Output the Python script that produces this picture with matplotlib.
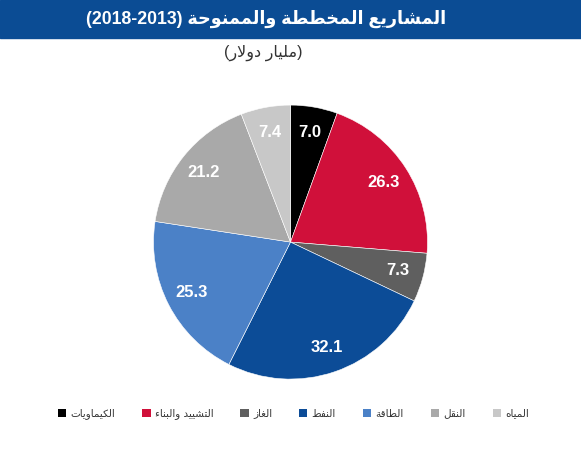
import re

import matplotlib
matplotlib.use("Agg")
import matplotlib.pyplot as plt
from matplotlib.patches import Patch, Rectangle

# ---------------------------------------------------------------------------
# Data
# ---------------------------------------------------------------------------
title = "المشاريع المخططة والممنوحة (2013-2018)"
subtitle = "(مليار دولار)"

sectors = ["الكيماويات", "التشييد والبناء", "الغاز", "النفط",
           "الطاقة", "النقل", "المياه"]
values = [7.0, 26.3, 7.3, 32.1, 25.3, 21.2, 7.4]
colors = ["#000000", "#D0103A", "#5F5F5F", "#0C4C97",
          "#4B81C7", "#A9A9A9", "#C8C8C8"]

# ---------------------------------------------------------------------------
# Minimal Arabic shaping + right-to-left ordering (no reshaper available)
# ---------------------------------------------------------------------------
_letters = "ءآأؤإئابةتثجحخدذرزسشصضطظعغفقكلمنهوىي"
_kinds = "URRRRDRDRDDDDDRRRRDDDDDDDDDDDDDDDRRD"
AR = {}
_cp = 0xFE80
for _ch, _k in zip(_letters, _kinds):
    AR[_ch] = (_cp, _k)
    _cp += {"U": 1, "R": 2, "D": 4}[_k]
LAM_ALEF = {"آ": 0xFEF5, "أ": 0xFEF7, "إ": 0xFEF9, "ا": 0xFEFB}


def shape(text):
    out = []
    i, n = 0, len(text)
    while i < n:
        ch = text[i]
        if ch not in AR:
            out.append(ch)
            i += 1
            continue
        prev = text[i - 1] if i > 0 else ""
        joins_prev = prev in AR and AR[prev][1] == "D"
        if ch == "ل" and i + 1 < n and text[i + 1] in LAM_ALEF:
            out.append(chr(LAM_ALEF[text[i + 1]] + int(joins_prev)))
            i += 2
            continue
        base, kind = AR[ch]
        nxt = text[i + 1] if i + 1 < n else ""
        joins_next = kind == "D" and nxt in AR and AR[nxt][1] != "U"
        if kind == "U":
            joins_prev = False
        if joins_prev and joins_next:
            form = 3
        elif joins_prev:
            form = 1
        elif joins_next:
            form = 2
        else:
            form = 0
        out.append(chr(base + form))
        i += 1
    return "".join(out)


def rtl(text):
    s = shape(text)[::-1]
    s = re.sub(r"\d+", lambda m: m.group(0)[::-1], s)
    return s.translate(str.maketrans("()", ")("))


# ---------------------------------------------------------------------------
# Figure
# ---------------------------------------------------------------------------
plt.rcParams["font.family"] = ["DejaVu Sans"]
mixed = ["Liberation Sans", "DejaVu Sans"]

fig = plt.figure(figsize=(5.81, 4.5), dpi=100)
fig.patch.set_facecolor("white")

# title bar
fig.patches.append(Rectangle((0, 1 - 38 / 450), 1, 38 / 450,
                             transform=fig.transFigure, color="#0B4C94",
                             zorder=0))
fig.text(0.458, 1 - 19 / 450, rtl(title), color="white", fontsize=12.7,
         fontweight="bold", ha="center", va="center", family=mixed)
fig.text(0.453, 1 - 53 / 450, rtl(subtitle), color="#333333", fontsize=11.5,
         ha="center", va="center", family=mixed)

# pie
ax = fig.add_axes([0.5 - 0.2358, 0.462 - 0.3044, 0.4716, 0.6089])
total = sum(values)
wedges, texts, autotexts = ax.pie(
    values,
    colors=colors,
    startangle=90,
    counterclock=False,
    radius=1.0,
    autopct=lambda p: f"{p * total / 100:.1f}",
    pctdistance=0.81,
    wedgeprops={"edgecolor": "white", "linewidth": 0.4},
    textprops={"color": "white", "fontsize": 12, "fontweight": "bold",
               "family": "Liberation Sans"},
)
ax.set_xlim(-1, 1)
ax.set_ylim(-1, 1)
ax.set_aspect("equal")

# legend
handles = [Patch(facecolor=c, edgecolor="none") for c in colors]
fig.legend(handles, [rtl(s) for s in sectors], ncol=7, loc="center",
           bbox_to_anchor=(0.505, 1 - 414 / 450), frameon=False,
           fontsize=7.5, handlelength=0.8, handleheight=0.8,
           handletextpad=0.4, columnspacing=2.6, labelcolor="#333333")

fig.savefig("out.png", dpi=100)
